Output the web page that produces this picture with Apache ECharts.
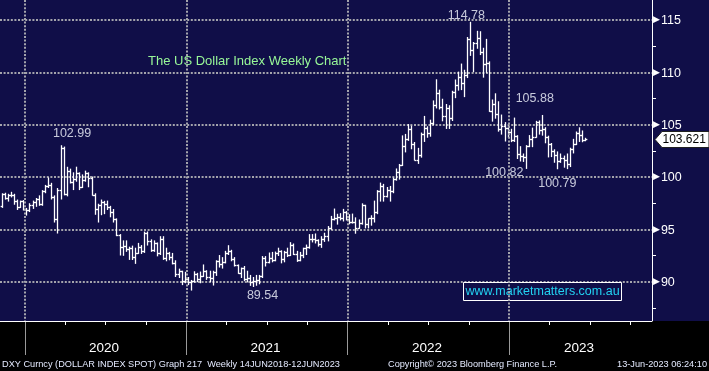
<!DOCTYPE html>
<html><head><meta charset="utf-8">
<script src="https://cdn.jsdelivr.net/npm/echarts@6/dist/echarts.min.js"></script>
<style>html,body{margin:0;padding:0;background:#000;}#c{width:709px;height:371px;}</style>
</head><body><div id="c"></div>
<script>
// ---- data ----
const firstWeek = '2019-11-04';   // Monday of first visible weekly bar
const weekCount = 210;            // weeks spanned by the x axis
const opens = [97.24,98.36,97.98,98.27,98.27,97.70,97.17,97.67,96.92,96.84,
97.36,97.60,97.87,97.39,98.69,99.10,99.26,98.13,95.98,98.74,
102.82,98.36,100.58,99.50,99.77,100.37,99.06,99.75,100.36,99.86,
98.33,96.94,97.33,97.62,97.43,97.18,96.65,95.95,94.43,93.35,
93.44,93.09,93.22,92.37,92.70,93.33,92.93,94.64,93.85,93.06,
93.69,92.77,94.04,92.23,92.76,92.39,91.79,90.70,90.98,90.02,
90.25,89.94,90.10,90.77,90.23,90.58,91.04,90.48,90.36,90.88,
91.97,91.67,91.92,92.77,92.95,92.16,91.56,90.85,91.28,90.22,
90.31,89.99,90.03,90.13,90.55,92.22,91.85,92.23,92.12,92.70,
92.90,92.17,92.80,92.51,93.51,92.68,92.03,92.58,93.20,93.33,
94.04,94.08,93.96,93.64,94.12,94.32,95.12,96.03,96.09,96.16,
96.10,96.62,96.01,95.67,95.75,95.17,95.64,97.28,95.49,96.06,
96.04,96.62,98.66,99.12,98.23,98.79,98.62,99.84,100.50,101.12,
102.96,103.66,104.56,103.17,101.67,102.14,104.15,104.69,104.20,105.13,
106.88,108.06,106.73,105.86,106.62,105.63,108.16,108.82,109.54,109.00,
109.73,113.19,112.12,112.80,113.31,111.98,110.76,110.86,106.31,106.99,
106.04,104.55,104.87,104.70,104.31,103.52,103.89,102.20,101.99,101.92,
102.92,103.63,103.87,105.21,104.52,104.58,103.86,103.12,102.51,102.09,
101.55,101.82,101.66,101.22,102.68,103.20,104.21,104.03,103.56];
const highs = [98.40,98.45,98.35,98.54,98.35,97.80,97.70,97.75,97.00,97.45,
97.70,97.95,98.20,98.70,99.20,99.91,99.40,98.20,98.90,102.99,
102.86,100.93,100.75,100.40,100.94,100.40,100.20,100.56,100.40,100.00,
98.40,97.40,97.80,97.68,97.70,97.20,96.90,96.00,94.50,93.90,
93.90,93.30,93.40,93.20,93.66,93.45,94.74,94.75,94.00,93.90,
93.70,94.30,94.30,93.20,92.80,92.70,92.00,91.20,91.00,90.90,
90.40,90.12,90.95,90.80,90.92,91.60,91.05,91.00,91.00,92.00,
92.50,92.30,92.90,93.44,93.00,92.30,91.60,91.30,91.45,91.00,
90.60,90.40,90.60,90.60,92.40,92.40,92.74,92.80,92.83,93.20,
92.95,92.90,93.20,93.73,93.60,92.90,92.80,93.20,93.50,94.50,
94.50,94.56,94.00,94.30,94.63,95.27,96.24,96.94,96.44,96.50,
96.91,96.70,96.40,96.46,96.10,95.90,97.44,97.30,96.00,96.30,
97.70,98.70,99.42,99.30,99.00,99.10,99.90,100.77,101.20,103.93,
104.07,105.01,104.86,103.30,102.74,104.20,105.79,104.80,105.43,107.27,
109.29,108.30,107.43,106.93,106.81,108.19,109.27,110.02,110.79,110.20,
113.33,114.78,112.85,113.92,113.88,112.30,113.15,111.00,107.36,107.95,
107.19,105.92,105.20,104.86,104.56,105.63,103.95,102.90,102.20,103.00,
103.96,104.67,105.32,105.36,105.88,104.71,103.90,103.20,102.60,102.40,
102.20,102.00,102.20,102.75,103.60,104.30,104.70,104.40,103.70];
const lows = [97.10,97.89,97.70,98.10,97.40,96.90,97.10,96.85,96.36,96.70,
97.00,97.20,97.30,97.30,98.50,99.00,97.90,95.70,94.65,97.90,
98.30,98.20,99.43,98.80,99.60,98.80,99.00,99.60,99.07,98.27,
96.44,95.70,96.40,96.50,96.90,96.20,95.70,94.40,92.55,92.52,
92.90,92.13,92.12,91.75,92.70,92.70,92.80,93.50,92.90,92.90,
92.47,92.60,92.13,92.00,92.10,91.70,90.50,90.40,89.72,89.90,
89.72,89.20,89.95,90.00,89.90,90.50,90.22,90.00,89.68,90.60,
91.40,91.30,91.80,92.60,92.00,91.50,90.80,90.40,90.10,89.98,
89.65,89.54,89.66,89.80,90.40,91.50,91.80,91.90,92.00,92.50,
91.80,91.90,92.40,92.50,92.60,91.94,92.00,92.30,92.60,93.20,
93.80,93.70,93.40,93.28,93.85,93.90,95.00,95.90,95.50,95.90,
95.80,95.90,95.53,95.60,94.63,95.10,95.50,95.14,95.14,95.40,
95.70,96.50,97.70,97.70,98.10,97.70,98.50,99.70,99.80,101.10,
102.40,103.50,102.70,101.63,101.30,101.90,103.40,103.80,103.90,105.00,
106.60,106.50,105.37,104.64,104.64,105.40,107.58,108.30,108.35,107.68,
109.50,111.62,110.06,112.30,111.70,109.54,110.00,106.27,105.34,105.62,
104.38,104.10,103.44,103.80,103.38,103.40,101.77,101.53,101.49,100.82,
102.90,102.90,103.80,104.10,104.00,103.27,101.92,101.95,101.41,100.79,
101.40,100.94,100.80,101.00,102.30,103.10,103.40,103.37,103.47];
const closes = [98.36,97.98,98.27,98.27,97.70,97.17,97.67,96.92,96.84,97.36,
97.60,97.87,97.39,98.69,99.10,99.26,98.13,95.98,98.74,102.82,
98.36,100.58,99.50,99.77,100.37,99.06,99.75,100.36,99.86,98.33,
96.94,97.33,97.62,97.43,97.18,96.65,95.95,94.43,93.35,93.44,
93.09,93.22,92.37,92.70,93.33,92.93,94.64,93.85,93.06,93.69,
92.77,94.04,92.23,92.76,92.39,91.79,90.70,90.98,90.02,90.25,
89.94,90.10,90.77,90.23,90.58,91.04,90.48,90.36,90.88,91.97,
91.67,91.92,92.77,92.95,92.16,91.56,90.85,91.28,90.22,90.31,
89.99,90.03,90.13,90.55,92.22,91.85,92.23,92.12,92.70,92.90,
92.17,92.80,92.51,93.51,92.68,92.03,92.58,93.20,93.33,94.04,
94.08,93.96,93.64,94.12,94.32,95.12,96.03,96.09,96.16,96.10,
96.62,96.01,95.67,95.75,95.17,95.64,97.28,95.49,96.06,96.04,
96.62,98.66,99.12,98.23,98.79,98.62,99.84,100.50,101.12,102.96,
103.66,104.56,103.17,101.67,102.14,104.15,104.69,104.20,105.13,106.88,
108.06,106.73,105.86,106.62,105.63,108.16,108.82,109.54,109.00,109.73,
113.19,112.12,112.80,113.31,111.98,110.76,110.86,106.31,106.99,106.04,
104.55,104.87,104.70,104.31,103.52,103.89,102.20,101.99,101.92,102.92,
103.63,103.87,105.21,104.52,104.58,103.86,103.12,102.51,102.09,101.55,
101.82,101.66,101.22,102.68,103.20,104.21,104.03,103.56,103.62];
const annIndex = [19, 151, 174, 169, 179, 81];
const annValue = [102.99, 114.78, 105.88, 100.82, 100.79, 89.54];
const lastPrice = 103.621;
const yMin = 85, yMax = 120, yStep = 5;
const titleText = 'The US Dollar Index Weekly Chart';
const watermarkText = 'www.marketmatters.com.au';
const footerLeft = 'DXY Curncy (DOLLAR INDEX SPOT) Graph 217  Weekly 14JUN2018-12JUN2023';
const footerMid = 'Copyright\u00A9 2023 Bloomberg Finance L.P.';
const footerRight = '13-Jun-2023 06:24:10';

// ---- layout / styles ----
const annOffsets = [[11.5,-11.7],[-4,-7],[-7,-16.5],[-22,4],[0,15],[9.5,9.5]];
const NAVY = '#100e48';
const GRID_C = '#a4a4ac';
const FONT = '"Liberation Sans", Arial, sans-serif';

// categories: weekly Mondays
const weeks = [];
const t0 = Date.parse(firstWeek + 'T00:00:00Z');
for (let i = 0; i < weekCount; i++) weeks.push(new Date(t0 + i * 7 * 86400000).toISOString().slice(0, 10));
function weekHasFirstOf(i, months) {
  const d0 = Date.parse(weeks[i] + 'T00:00:00Z');
  for (let k = 0; k < 7; k++) {
    const d = new Date(d0 + k * 86400000);
    if (d.getUTCDate() === 1 && months.indexOf(d.getUTCMonth()) >= 0) return true;
  }
  return false;
}
const isYearStart = (i) => weekHasFirstOf(i, [0]);
const isQuarterStart = (i) => weekHasFirstOf(i, [3, 6, 9]);
const yearStarts = [];
for (let i = 0; i < weekCount; i++) if (isYearStart(i)) yearStarts.push(i);
const labelIdx = yearStarts.map((a, k) => {
  const b = k + 1 < yearStarts.length ? yearStarts[k + 1] : weekCount;
  return Math.floor((a + b - 1) / 2);
});

const ohlc = opens.map((o, i) => [i, o, highs[i], lows[i], closes[i]]);

function renderOHLC(params, api) {
  const i = api.value(0);
  const pO = api.coord([i, api.value(1)]);
  const pH = api.coord([i, api.value(2)]);
  const pL = api.coord([i, api.value(3)]);
  const pC = api.coord([i, api.value(4)]);
  const bw = api.size([1, 0])[0];
  const x = Math.round(pH[0]) + 0.5;
  const t = bw * 0.6;
  const yo = Math.round(pO[1]) + 0.5, yc = Math.round(pC[1]) + 0.5;
  const st = { stroke: '#ffffff', lineWidth: 1.3 };
  return { type: 'group', children: [
    { type: 'line', shape: { x1: x, y1: pH[1] - 0.5, x2: x, y2: pL[1] + 0.5 }, style: st },
    { type: 'line', shape: { x1: x - t, y1: yo, x2: x, y2: yo }, style: st },
    { type: 'line', shape: { x1: x, y1: yc, x2: x + t, y2: yc }, style: st }
  ]};
}
function renderTag(params, api) {
  const p = api.coord([api.value(0), api.value(1)]);
  const cs = params.coordSys;
  const x0 = cs.x + cs.width;
  const W = api.getWidth();
  const y = Math.round(p[1]) + 0.5;
  return { type: 'group', children: [
    { type: 'polygon', shape: { points: [[x0 + 3, y], [x0 + 10, y - 8], [W, y - 8], [W, y + 8], [x0 + 10, y + 8]] },
      style: { fill: '#ffffff', stroke: '#202020', lineWidth: 1 } },
    { type: 'text', style: { x: x0 + 10.5, y: y + 0.5, text: String(api.value(1)), fill: '#000', font: '12px ' + FONT, verticalAlign: 'middle' } }
  ]};
}

const gridBase = { left: 0, right: 57, containLabel: false, outerBoundsMode: 'none' };
const chart = echarts.init(document.getElementById('c'), null, { renderer: 'canvas' });
chart.setOption({
  animation: false,
  backgroundColor: NAVY,
  grid: [
    Object.assign({ top: -32.34, bottom: 36.96 }, gridBase),   // plot
    Object.assign({ top: 0, bottom: 50 }, gridBase),           // x axis line + dotted year lines
    Object.assign({ top: 321, height: 34 }, gridBase),         // long year ticks
    Object.assign({ top: 321, height: 4 }, gridBase)           // quarter ticks
  ],
  xAxis: [
    { gridIndex: 0, type: 'category', data: weeks, boundaryGap: true, show: false },
    { gridIndex: 1, type: 'category', data: weeks, boundaryGap: true, z: 110,
      axisLine: { show: true, lineStyle: { color: '#ffffff', width: 1 } },
      axisTick: { show: false },
      splitLine: { show: true, interval: (i) => isYearStart(i), showMaxLine: false,
        lineStyle: { color: GRID_C, width: 2, type: [2, 1.6] } },
      axisLabel: { show: true, interval: (i) => labelIdx.indexOf(i) >= 0, margin: 20,
        formatter: (v) => v.slice(0, 4), color: '#ffffff', fontSize: 13.5, fontFamily: FONT } },
    { gridIndex: 2, type: 'category', data: weeks, boundaryGap: true, z: 110,
      axisLine: { show: false }, axisTick: { show: false }, axisLabel: { show: false },
      splitLine: { show: true, interval: (i) => isYearStart(i), showMaxLine: false,
        lineStyle: { color: '#9a9a9a', width: 1, type: 'solid' } } },
    { gridIndex: 3, type: 'category', data: weeks, boundaryGap: true, z: 110,
      axisLine: { show: false }, axisTick: { show: false }, axisLabel: { show: false },
      splitLine: { show: true, interval: (i) => isQuarterStart(i), showMaxLine: false,
        lineStyle: { color: '#ffffff', width: 1, type: 'solid' } } }
  ],
  yAxis: [
    { gridIndex: 0, type: 'value', position: 'right', min: yMin, max: yMax, interval: yStep,
      axisLine: { show: true, lineStyle: { color: '#ffffff', width: 1 } },
      axisTick: { show: false },
      minorTick: { show: true, splitNumber: 2, length: 4, lineStyle: { color: '#ffffff', width: 1 } },
      splitLine: { show: true, lineStyle: { color: GRID_C, width: 2, type: [2, 1.6] } },
      axisLabel: { show: true, margin: 1, showMinLabel: false, showMaxLabel: false,
        formatter: (v) => '{a|\u25B6}{b|' + v + '}',
        rich: { a: { fontFamily: 'DejaVu Sans', fontSize: 9, color: '#ffffff', padding: [0, 1, 0, 0] },
                b: { fontFamily: FONT, fontSize: 12.5, color: '#ffffff', padding: [2, 0, 0, 0] } } } },
    { gridIndex: 1, type: 'value', show: false },
    { gridIndex: 2, type: 'value', show: false },
    { gridIndex: 3, type: 'value', show: false }
  ],
  series: [
    { type: 'custom', name: 'DXY', xAxisIndex: 0, yAxisIndex: 0, renderItem: renderOHLC,
      encode: { x: 0, y: [1, 2, 3, 4] }, data: ohlc, silent: true },
    { type: 'scatter', xAxisIndex: 0, yAxisIndex: 0, symbolSize: 0.1, silent: true,
      itemStyle: { color: 'rgba(0,0,0,0)' },
      label: { show: true, position: 'inside', formatter: (p) => p.value[1].toFixed(2),
        color: '#f4f7ff', fontSize: 12.5, fontFamily: FONT },
      data: annIndex.map((ix, k) => ({ value: [ix, annValue[k]], label: { offset: annOffsets[k] } })) },
    { type: 'custom', xAxisIndex: 0, yAxisIndex: 0, renderItem: renderTag, silent: true, z: 20,
      encode: { x: 0, y: 1 }, data: [[opens.length - 1, lastPrice]] }
  ],
  graphic: [
    { type: 'rect', z: 100, shape: { x: 0, y: 321, width: 709, height: 50 }, style: { fill: '#000000' } },
    { type: 'text', z: 50, x: 148, y: 61, style: { text: titleText, fill: '#98f898', font: '13px ' + FONT, verticalAlign: 'middle' } },
    { type: 'group', z: 50, x: 463, y: 282, children: [
      { type: 'rect', z: 50, shape: { x: 0.5, y: 0.5, width: 158, height: 18 }, style: { fill: NAVY, stroke: '#ffffff', lineWidth: 1 } },
      { type: 'text', z: 51, x: 79.5, y: 10, style: { text: watermarkText, fill: '#22d3f2', font: '12.5px ' + FONT, align: 'center', verticalAlign: 'middle' } }
    ]},
    { type: 'text', z: 120, x: 2, y: 364, style: { text: footerLeft, fill: '#e4eaff', font: '9.2px ' + FONT, verticalAlign: 'middle' } },
    { type: 'text', z: 120, x: 388, y: 364, style: { text: footerMid, fill: '#e4eaff', font: '9.2px ' + FONT, verticalAlign: 'middle' } },
    { type: 'text', z: 120, x: 707, y: 364, style: { text: footerRight, fill: '#e4eaff', font: '9.2px ' + FONT, align: 'right', verticalAlign: 'middle' } }
  ]
});
</script></body></html>
